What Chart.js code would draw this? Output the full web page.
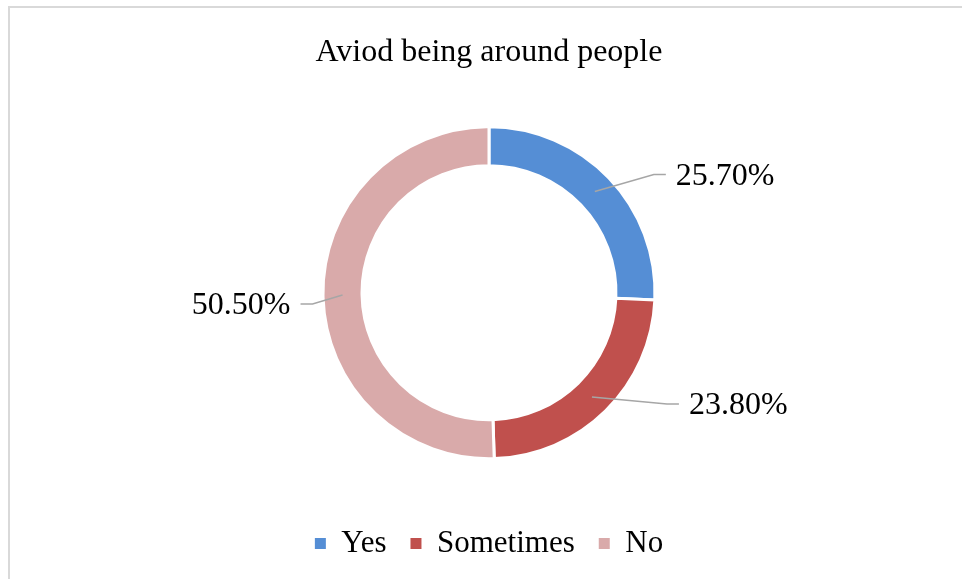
<!DOCTYPE html>
<html>
<head>
<meta charset="utf-8">
<title>Aviod being around people</title>
<script src="https://cdn.jsdelivr.net/npm/chart.js@4/dist/chart.umd.min.js"></script>
<style>
  html, body { margin: 0; padding: 0; background: #fff; }
  #wrap { position: relative; width: 962px; height: 579px; overflow: hidden; }
  #frame {
    position: absolute; left: 8px; top: 6px; width: 1000px; height: 700px;
    border-left: 2px solid #d9d9d9; border-top: 2px solid #d9d9d9;
  }
  #chart { position: absolute; left: 0; top: 0; }
</style>
</head>
<body>
<div id="wrap">
  <div id="frame"></div>
  <canvas id="chart" width="962" height="579"></canvas>
</div>
<script>
const title = "Aviod being around people";
const categories = ["Yes", "Sometimes", "No"];
const shares = [25.7, 23.8, 50.5];
const colors = ["#558ed5", "#c0504d", "#d9aaaa"];

// elbow of each leader line, relative to the middle of its slice
const leaderOffsets = [[59, -17], [75, 7], [-30, 9]];

const serif = "'Liberation Serif', 'Times New Roman', serif";

// leader lines and percentage labels beside each slice
const sliceLabels = {
  id: "sliceLabels",
  afterDatasetsDraw(chart) {
    const ctx = chart.ctx;
    const meta = chart.getDatasetMeta(0);
    ctx.save();
    ctx.font = "32px " + serif;
    ctx.textBaseline = "middle";
    meta.data.forEach((arc, i) => {
      const start = arc.tooltipPosition();
      const [dx, dy] = leaderOffsets[i];
      const ex = start.x + dx;
      const ey = start.y + dy;
      const dir = dx >= 0 ? 1 : -1;
      const tx = ex + dir * 12;

      ctx.strokeStyle = "#a6a6a6";
      ctx.lineWidth = 1.5;
      ctx.beginPath();
      ctx.moveTo(start.x, start.y);
      ctx.lineTo(ex, ey);
      ctx.lineTo(tx, ey);
      ctx.stroke();

      ctx.fillStyle = "#000";
      ctx.textAlign = dir > 0 ? "left" : "right";
      ctx.fillText(shares[i].toFixed(2) + "%", tx + dir * 10, ey + 2);
    });
    ctx.restore();
  }
};

new Chart(document.getElementById("chart"), {
  type: "doughnut",
  data: {
    labels: categories,
    datasets: [{
      data: shares,
      backgroundColor: colors,
      borderColor: "#fff",
      borderWidth: 3,
      radius: 166,
      cutout: "76.5%"
    }]
  },
  options: {
    responsive: false,
    animation: false,
    layout: { padding: { left: 16, right: 0, top: 2, bottom: 10 } },
    plugins: {
      title: {
        display: true,
        text: title,
        color: "#000",
        font: { family: serif, size: 32, weight: "normal" },
        padding: { top: 31, bottom: 10 }
      },
      legend: {
        position: "bottom",
        labels: {
          color: "#000",
          font: { family: serif, size: 31 },
          boxWidth: 11,
          boxHeight: 11,
          padding: 24,
          generateLabels(chart) {
            const items = Chart.overrides.doughnut.plugins.legend.labels.generateLabels(chart);
            return items.map(it => Object.assign(it, { lineWidth: 0, strokeStyle: it.fillStyle }));
          }
        }
      },
      tooltip: { enabled: false }
    }
  },
  plugins: [sliceLabels]
});
</script>
</body>
</html>
